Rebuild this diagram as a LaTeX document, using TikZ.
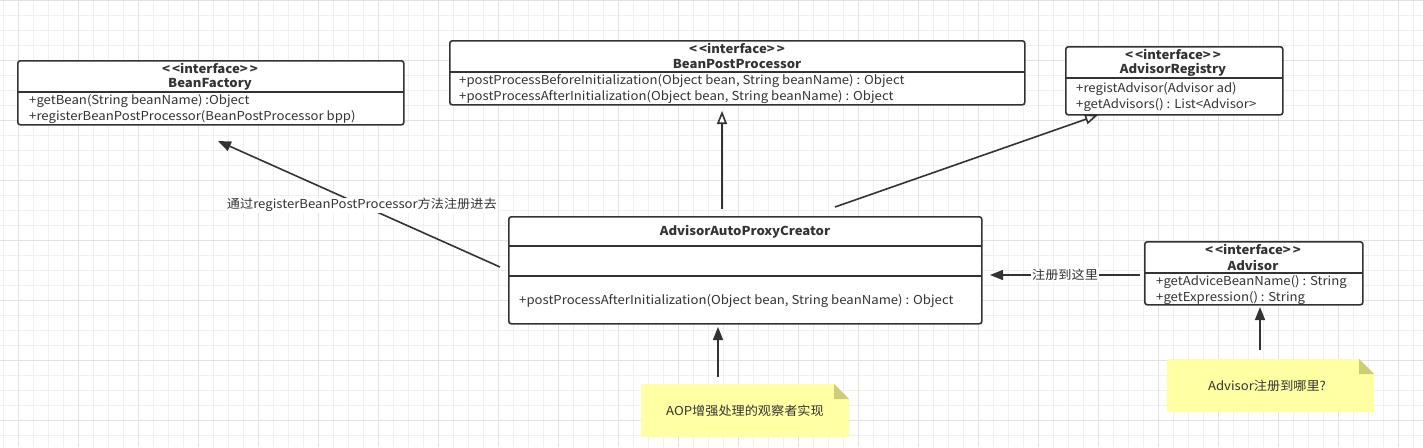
\documentclass[tikz,border=0pt]{standalone}
\usepackage{fontspec}
\setmainfont[FakeStretch=1.07]{Noto Sans CJK SC}
\usetikzlibrary{arrows.meta}
\definecolor{ink}{HTML}{333333}
\definecolor{gridlight}{HTML}{F0F0F0}
\definecolor{griddark}{HTML}{E2E2E2}
\definecolor{notefill}{HTML}{FFFFA3}
\definecolor{notefold}{HTML}{CDCD79}
\newcommand{\stereo}{{<}\kern2pt{<}interface{>}\kern2pt{>}}
\tikzset{
  umlbox/.style={draw=ink, line width=1.6pt, rounded corners=2.5pt, inner sep=0pt, anchor=north west},
  divider/.style={draw=ink, line width=1.6pt},
  ttl/.style={font=\fontsize{12.3}{14}\selectfont\bfseries, text=ink, inner sep=0pt},
  meth/.style={font=\fontsize{12.3}{14}\selectfont, text=ink, inner sep=0pt, anchor=west},
  conn/.style={draw=ink, line width=1.6pt},
  solidtip/.style={-{Triangle[length=13pt,width=10pt]}},
  opentip/.style={-{Triangle[open,length=13pt,width=10pt,fill=white]}},
  lbl/.style={font=\fontsize{12.3}{14}\selectfont, text=ink, fill=white, inner sep=1pt},
  notetext/.style={font=\fontsize{12.3}{14}\selectfont, text=ink, inner sep=0pt},
  notebody/.style={fill=notefill},
  notecorner/.style={fill=notefold},
}
\begin{document}
\begin{tikzpicture}[x=1pt,y=-1pt]
\useasboundingbox (0,0) rectangle (1423,447);
\fill[white] (0,0) rectangle (1423,447);
% grid
\foreach \gx in {3,18,...,1423} \draw[gridlight, line width=0.8pt] (\gx,0) -- (\gx,447);
\foreach \gy in {0,15,...,447} \draw[gridlight, line width=0.8pt] (0,\gy) -- (1423,\gy);
\foreach \gx in {18,78,...,1423} \draw[griddark, line width=0.8pt] (\gx,0) -- (\gx,447);
\foreach \gy in {0,60,...,447} \draw[griddark, line width=0.8pt] (0,\gy) -- (1423,\gy);

% BeanFactory
\node[umlbox, minimum width=386pt, minimum height=64pt, fill=white] (bf) at (17,60) {};
\draw[divider] (17,92) -- (403,92);
\node[ttl] (bft1) at (210,68) {\stereo};
\node[ttl] (bft2) at (210,84) {BeanFactory};
\node[meth] (bfm1) at (29,101) {+getBean(String beanName) :Object};
\node[meth] (bfm2) at (29,117) {+registerBeanPostProcessor(BeanPostProcessor bpp)};

% BeanPostProcessor
\node[umlbox, minimum width=575pt, minimum height=64pt, fill=white] (bpp) at (449,40) {};
\draw[divider] (449,72) -- (1024,72);
\node[ttl] (bppt1) at (737,48) {\stereo};
\node[ttl] (bppt2) at (737,64) {BeanPostProcessor};
\node[meth] (bppm1) at (459,81) {+postProcessBeforeInitialization(Object bean, String beanName) : Object};
\node[meth] (bppm2) at (459,97) {+postProcessAfterInitialization(Object bean, String beanName) : Object};

% AdvisorRegistry
\node[umlbox, minimum width=217pt, minimum height=68pt, fill=white] (reg) at (1065,46) {};
\draw[divider] (1065,78) -- (1282,78);
\node[ttl] (regt1) at (1173,54) {\stereo};
\node[ttl] (regt2) at (1173,70) {AdvisorRegistry};
\node[meth] (regm1) at (1076,89) {+registAdvisor(Advisor ad)};
\node[meth] (regm2) at (1076,105) {+getAdvisors() : List{<}Advisor{>}};

% AdvisorAutoProxyCreator
\node[umlbox, minimum width=473pt, minimum height=107pt, fill=white] (aapc) at (508,216) {};
\draw[divider] (508,246) -- (981,246);
\draw[divider] (508,276) -- (981,276);
\node[ttl] (aapct) at (745,232) {AdvisorAutoProxyCreator};
\node[meth] (aapcm) at (519,301) {+postProcessAfterInitialization(Object bean, String beanName) : Object};

% Advisor
\node[umlbox, minimum width=218pt, minimum height=63pt, fill=white] (adv) at (1144,241) {};
\draw[divider] (1144,273) -- (1362,273);
\node[ttl] (advt1) at (1253,249) {\stereo};
\node[ttl] (advt2) at (1253,265) {Advisor};
\node[meth] (advm1) at (1156,282) {+getAdviceBeanName() : String};
\node[meth] (advm2) at (1156,298) {+getExpression() : String};

% Notes
\fill[notebody] (641,384) -- (834,384) -- (849,399) -- (849,437) -- (641,437) -- cycle;
\fill[notecorner] (834,384) -- (849,399) -- (834,399) -- cycle;
\node[notetext] (n1) at (745,411) {AOP增强处理的观察者实现};
\fill[notebody] (1167,359) -- (1359,359) -- (1374,374) -- (1374,412) -- (1167,412) -- cycle;
\fill[notecorner] (1359,359) -- (1374,374) -- (1359,374) -- cycle;
\node[notetext] (n2) at (1267,386) {Advisor注册到哪里?};

% connector end points
\coordinate (c1s) at (500,267);
\coordinate (c1e) at (218,141);
\coordinate (c2s) at (722,209);
\coordinate (c2e) at (722,111);
\coordinate (c3s) at (835,207);
\coordinate (c3e) at (1098,115);
\coordinate (c4s) at (1140,275);
\coordinate (c4e) at (990,275);
\coordinate (c5s) at (718,377);
\coordinate (c5e) at (718,327);
\coordinate (c6s) at (1260,350);
\coordinate (c6e) at (1260,307);

\draw[conn, solidtip] (c1s) -- node[lbl, pos=0.49] {通过registerBeanPostProcessor方法注册进去} (c1e);
\draw[conn, opentip] (c2s) -- (c2e);
\draw[conn, opentip] (c3s) -- (c3e);
\draw[conn, solidtip] (c4s) -- node[lbl, pos=0.5] {注册到这里} (c4e);
\draw[conn, solidtip] (c5s) -- (c5e);
\draw[conn, solidtip] (c6s) -- (c6e);
\end{tikzpicture}
\end{document}
